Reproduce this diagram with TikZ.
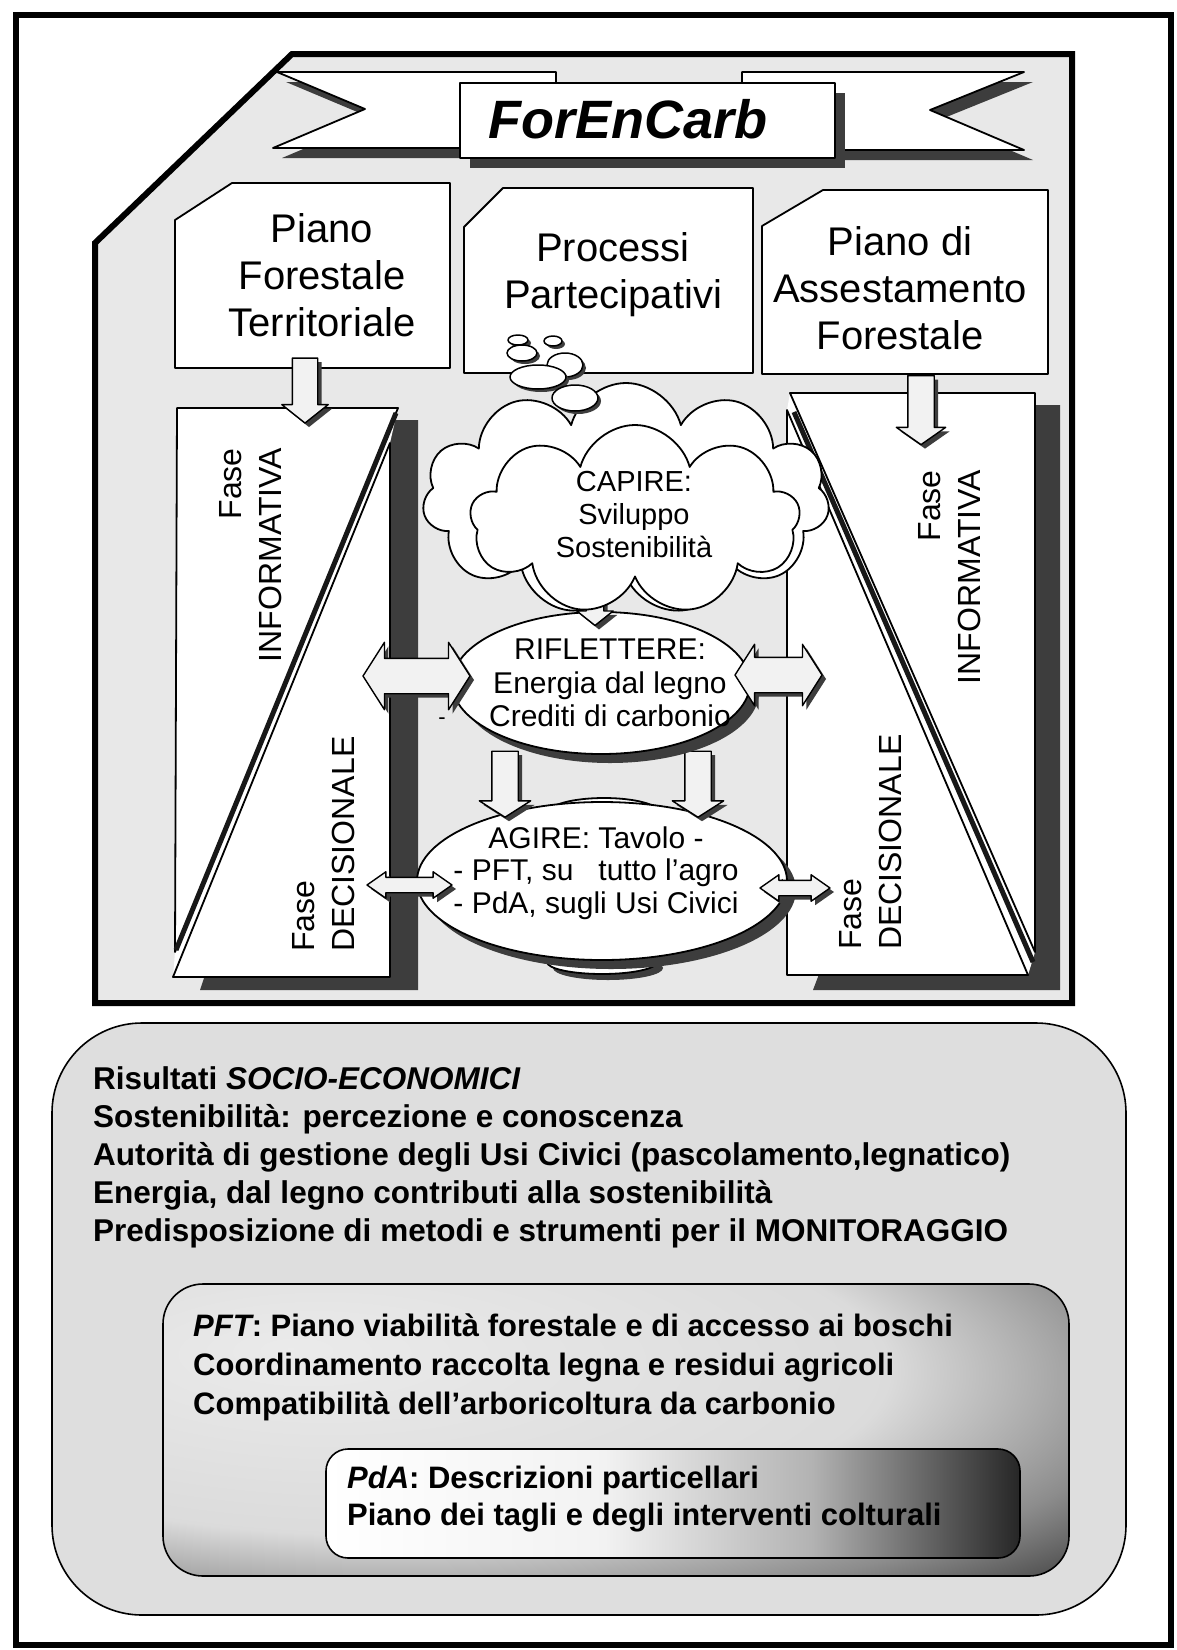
\documentclass[tikz,border=0pt]{standalone}
\usepackage{fontspec}
\setmainfont{Liberation Sans}
\usetikzlibrary{shapes.geometric,shapes.arrows,shapes.symbols,shadows}

\definecolor{framegray}{gray}{0.91}
\definecolor{resultgray}{gray}{0.87}
\definecolor{shadowgray}{gray}{0.24}
\definecolor{arrowgray}{gray}{0.95}

% shadings for the two inner boxes
\pgfdeclareradialshading{pftshading}{\pgfpoint{-18bp}{14bp}}{%
  color(0bp)=(black!8); color(28bp)=(black!14); color(40bp)=(black!45);
  color(50bp)=(black!80); color(58bp)=(black!92); color(100bp)=(black!92)}
\pgfdeclarehorizontalshading{pdashading}{100bp}{%
  color(0bp)=(white); color(25bp)=(white); color(45bp)=(black!5);
  color(60bp)=(black!30); color(75bp)=(black!85); color(100bp)=(black!85)}

\tikzset{
  lineshape/.style={draw=black, line width=1.8pt, line join=round},
  whitepart/.style={lineshape, fill=white},
  shadowed/.style={drop shadow={shadow xshift=#1, shadow yshift=-#1,
    fill=shadowgray, opacity=1}},
  boxlabel/.style={align=center, inner sep=0pt, font=\fontsize{40}{47}\selectfont},
  phaselabel/.style={align=#1, inner sep=0pt, rotate=90,
    font=\fontsize{32}{40}\selectfont},
  talklabel/.style={align=center, inner sep=0pt, font=\fontsize{30}{33.5}\selectfont},
  fatarrow/.style={single arrow, lineshape, line width=1.4pt, fill=arrowgray,
    inner xsep=0pt, shadowed=4pt},
  twinarrow/.style={double arrow, lineshape, line width=1.4pt, fill=arrowgray,
    inner xsep=0pt, shadowed=4pt},
  resultlines/.style={anchor=north west, align=left, inner sep=0pt,
    font=\bfseries\fontsize{31.5}{38}\selectfont},
}
\newcommand{\bfit}[1]{{\bfseries\itshape #1}}

\begin{document}
\begin{tikzpicture}[x=1pt,y=-1pt]
\useasboundingbox (0,0) rectangle (1176,1650);
\fill[white] (0,0) rectangle (1176,1650);
\draw[line width=6pt] (16,15) rectangle (1171,1645);

% the upper frame
\draw[line width=6pt, fill=framegray, line join=miter]
  (95,243) -- (292,54) -- (1072,54) -- (1072,1003) -- (95,1003) -- cycle;

% the ribbon
\fill[shadowgray] (286,82) -- (565,82) -- (565,158) -- (282,158) -- (374,119) -- cycle;
\fill[shadowgray] (751,82) -- (1033,82) -- (939,120) -- (1033,160) -- (751,160) -- cycle;
\path[whitepart] (277,72) -- (556,72) -- (556,148) -- (273,148) -- (365,109) -- cycle;
\path[whitepart] (742,72) -- (1024,72) -- (930,110) -- (1024,150) -- (742,150) -- cycle;
\node (title) [whitepart, line width=2.2pt, minimum width=375pt, minimum height=75pt,
  shadowed=10pt] at (647.5,120.5) {};
\node (titletext) [anchor=base, inner sep=0pt,
  font=\bfseries\itshape\fontsize{54}{60}\selectfont] at (628,138) {ForEnCarb};

% the three plans
\path[whitepart] (175,220) -- (232,183) -- (450,183) -- (450,368) -- (175,368) -- cycle;
\path[whitepart] (464,227) -- (503,188) -- (753,188) -- (753,373) -- (464,373) -- cycle;
\path[whitepart] (762,226) -- (823,190) -- (1048,190) -- (1048,374) -- (762,374) -- cycle;
\node (pft) [boxlabel] at (322,275) {Piano\\Forestale\\Territoriale};
\node (proc) [boxlabel] at (613,275) {Processi\\Partecipativi};
\node (paf) [boxlabel] at (900,288) {Piano di\\Assestamento\\Forestale};

% the phases, left
\fill[shadowgray] (392,420) -- (418,420) -- (418,990) -- (200,990) -- cycle;
\fill[white] (177,408) -- (398,408) -- (390,443) -- (390,977) -- (173,977)
  -- (175,952) -- cycle;
\draw[lineshape] (177,408) -- (398,408) -- (175,952) -- cycle;
\draw[line width=5pt, shadowgray!40!black] (396,413) -- (176,950);
\draw[lineshape] (390,443) -- (390,977) -- (173,977) -- cycle;
% the phases, right
\fill[shadowgray] (1035,405) -- (1060,405) -- (1060,990) -- (813,990) -- cycle;
\fill[white] (790,393) -- (1035,393) -- (1035,952) -- (1028,975) -- (787,975)
  -- (787,410) -- cycle;
\draw[lineshape] (790,393) -- (1035,393) -- (1035,952) -- cycle;
\draw[line width=5pt, shadowgray!40!black] (794,412) -- (1033,962);
\draw[lineshape] (787,410) -- (787,975) -- (1028,975) -- cycle;
\node (infoleft) [phaselabel=right, anchor=east] at (251,448) {Fase\\INFORMATIVA};
\node (decileft) [phaselabel=left, anchor=west] at (324,952) {Fase\\DECISIONALE};
\node (inforight) [phaselabel=right, anchor=east] at (950,470) {Fase\\INFORMATIVA};
\node (deciright) [phaselabel=left, anchor=west] at (871,950) {Fase\\DECISIONALE};

% the arrows from the plans
\node (pftdown) [fatarrow, rotate=-90, minimum height=65pt, minimum width=45pt,
  inner ysep=12pt, single arrow head extend=10.5pt, single arrow tip angle=103]
  at (305,385.5) {};
\node (pafdown) [fatarrow, rotate=-90, minimum height=69pt, minimum width=48pt,
  inner ysep=12.5pt, single arrow head extend=11.5pt, single arrow tip angle=110]
  at (921,405.5) {};

% the table
\path[whitepart, shadowed=6pt] (602,962) ellipse [x radius=55, y radius=12];
\path[whitepart] (604,813) ellipse [x radius=56, y radius=15];
\node (agire) [ellipse, whitepart, minimum width=370pt, minimum height=158pt,
  shadowed=9pt] at (602,881) {};
\node (rifagl) [fatarrow, rotate=-90, minimum height=66pt, minimum width=50pt,
  inner ysep=12.5pt, single arrow head extend=12.5pt, single arrow tip angle=115]
  at (505,780) {};
\node (rifagr) [fatarrow, rotate=-90, minimum height=66pt, minimum width=50pt,
  inner ysep=12.5pt, single arrow head extend=12.5pt, single arrow tip angle=115]
  at (698,780) {};
\node (rif) [ellipse, whitepart, minimum width=298pt, minimum height=142pt,
  shadowed=9pt] at (601,683) {};
\node (capdown) [fatarrow, rotate=-90, minimum height=40pt, minimum width=35pt,
  inner ysep=8pt, single arrow head extend=9.5pt, single arrow tip angle=103]
  at (595,602) {};

% the thought cloud
\node (cloudback) [cloud, cloud puffs=11, whitepart, minimum width=407pt,
  minimum height=232pt] at (626,499) {};
\node (cloudfront) [cloud, cloud puffs=9, whitepart, minimum width=330pt,
  minimum height=190pt] at (635,520) {};
\foreach \bx/\by/\brx/\bry in {518/340/10/5, 553/341/9/5, 522/353/15/8,
    565/365/18/12, 538/377/28/12, 575/398/23/13}
  \path[whitepart, line width=1.5pt, shadowed=3pt] (\bx,\by)
    ellipse [x radius=\brx, y radius=\bry];

% the side arrows
\node (rifl) [twinarrow, minimum height=107pt, minimum width=66pt, inner ysep=17pt,
  double arrow head extend=16pt, double arrow tip angle=115] at (416.5,676) {};
\node (rifr) [twinarrow, minimum height=87pt, minimum width=60pt, inner ysep=17pt,
  double arrow head extend=13pt, double arrow tip angle=115] at (778.5,675) {};
\node (agl) [twinarrow, minimum height=85pt, minimum width=25pt, inner ysep=7pt,
  double arrow head extend=5.5pt, double arrow tip angle=70] at (409.5,885) {};
\node (agr) [twinarrow, minimum height=70pt, minimum width=25pt, inner ysep=7pt,
  double arrow head extend=5.5pt, double arrow tip angle=70] at (795,888) {};

\node (capire) [talklabel, font=\fontsize{29}{33}\selectfont] at (634,515)
  {CAPIRE:\\Sviluppo\\Sostenibilità};
\node (riflettere) [talklabel] at (610,683)
  {RIFLETTERE:\\Energia dal legno\\Crediti di carbonio};
\node (agiretext) [talklabel, font=\fontsize{30}{32.5}\selectfont] at (596,873)
  {AGIRE: Tavolo -\\- PFT, su\ \ \ tutto l'agro\\- PdA, sugli Usi Civici};
\node (dash) [inner sep=0pt, font=\fontsize{22}{22}\selectfont] at (442,721) {-};

% the results
\draw[line width=1.6pt, fill=resultgray, rounded corners=90pt]
  (52,1023) rectangle (1126,1615);
\node (socio) [resultlines] at (93,1066)
  {Risultati \bfit{SOCIO-ECONOMICI}\\
   Sostenibilità: percezione e conoscenza\\
   Autorità di gestione degli Usi Civici (pascolamento,legnatico)\\
   Energia, dal legno contributi alla sostenibilità\\
   Predisposizione di metodi e strumenti per il MONITORAGGIO};
\shade[shading=pftshading, rounded corners=40pt] (163,1284) rectangle (1069,1576);
\draw[lineshape, line width=1.6pt, rounded corners=40pt] (163,1284) rectangle (1069,1576);
\node (pftres) [resultlines, font=\bfseries\fontsize{31}{39}\selectfont] at (193,1314)
  {\bfit{PFT}: Piano viabilità forestale e di accesso ai boschi\\
   Coordinamento raccolta legna e residui agricoli\\
   Compatibilità dell'arboricoltura da carbonio};
\shade[shading=pdashading, rounded corners=22pt] (326,1449) rectangle (1020,1558);
\draw[lineshape, line width=1.6pt, rounded corners=22pt] (326,1449) rectangle (1020,1558);
\node (pdares) [resultlines, font=\bfseries\fontsize{31}{37}\selectfont] at (347,1466)
  {\bfit{PdA}: Descrizioni particellari\\
   Piano dei tagli e degli interventi colturali};
\end{tikzpicture}
\end{document}
